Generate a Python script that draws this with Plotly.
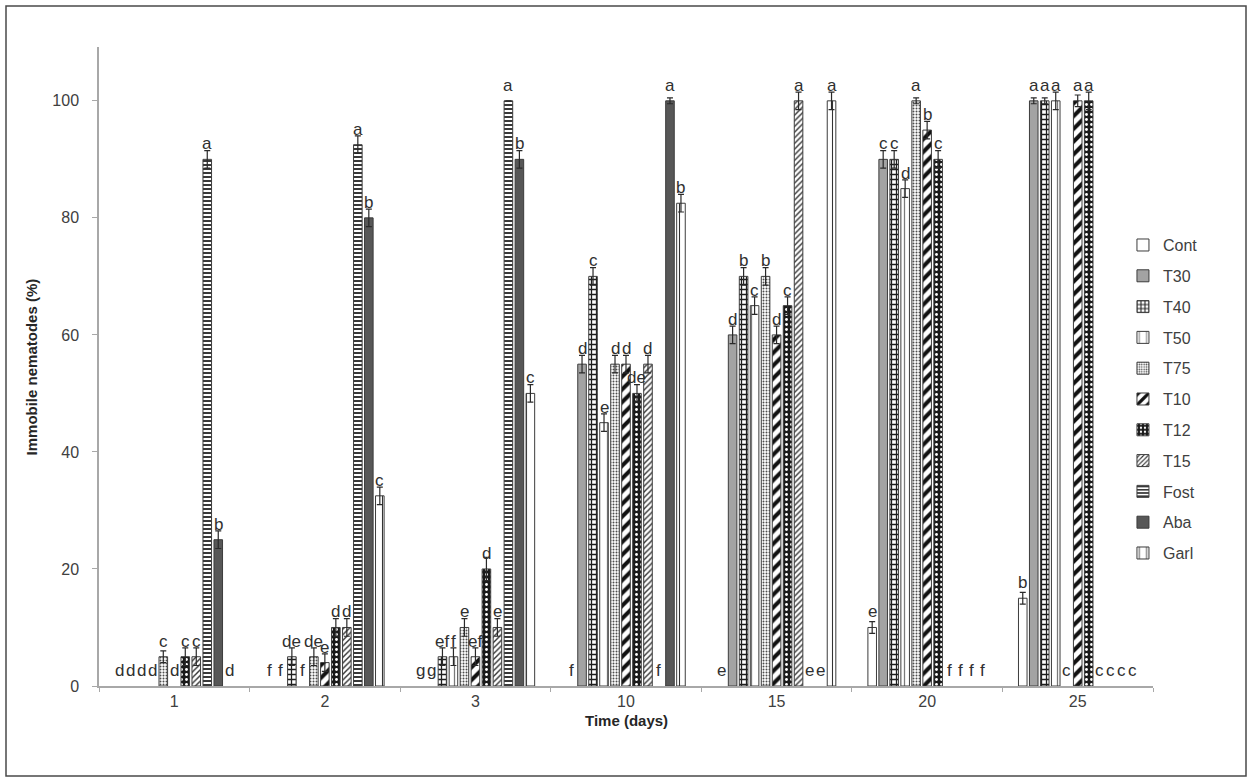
import plotly.graph_objects as go

# Sampling days (x categories)
days = ["1", "2", "3", "10", "15", "20", "25"]

# Treatments, in legend order
treatments = ["Cont", "T30", "T40", "T50", "T75", "T10", "T12", "T15", "Fost", "Aba", "Garl"]

# Immobile nematodes (%) per treatment, one value per day
cont = [0, 0, 0, 0, 0, 10, 15]
t30 = [0, 0, 0, 55, 60, 90, 100]
t40 = [0, 5, 5, 70, 70, 90, 100]
t50 = [0, 0, 5, 45, 65, 85, 100]
t75 = [5, 5, 10, 55, 70, 100, 0]
t10 = [0, 4, 5, 55, 60, 95, 100]
t12 = [5, 10, 20, 50, 65, 90, 100]
t15 = [5, 10, 10, 55, 100, 0, 0]
fost = [90, 92.5, 100, 0, 0, 0, 0]
aba = [25, 80, 90, 100, 0, 0, 0]
garl = [0, 32.5, 50, 82.5, 100, 0, 0]

# Standard errors (None where no bar is drawn)
err_cont = [None, None, None, None, None, 1, 1]
err_t30 = [None, None, None, 1.5, 1.5, 1.5, 0.5]
err_t40 = [None, 1.5, 1.5, 1.5, 1.5, 1.5, 0.5]
err_t50 = [None, None, 1.5, 1.5, 1.5, 1.5, 1.5]
err_t75 = [1, 1.5, 1.5, 1.5, 1.5, 0.5, None]
err_t10 = [None, 1.5, 1.5, 1.5, 1.5, 1.5, 1]
err_t12 = [1.5, 1.5, 2, 1.5, 1.5, 1.5, 1.5]
err_t15 = [1.5, 1.5, 1.5, 1.5, 1.5, None, None]
err_fost = [1.5, 1.5, 0, None, None, None, None]
err_aba = [1.5, 1.5, 1.5, 0.5, None, None, None]
err_garl = [None, 1.5, 1.5, 1.5, 1.5, None, None]

# Significance letters per treatment and day
let_cont = ["d", "f", "g", "f", "e", "e", "b"]
let_t30 = ["d", "f", "g", "d", "d", "c", "a"]
let_t40 = ["d", "de", "ef", "c", "b", "c", "a"]
let_t50 = ["d", "f", "f", "e", "c", "d", "a"]
let_t75 = ["c", "de", "e", "d", "b", "a", "c"]
let_t10 = ["d", "e", "ef", "d", "d", "b", "a"]
let_t12 = ["c", "d", "d", "de", "c", "c", "a"]
let_t15 = ["c", "d", "e", "d", "a", "f", "c"]
let_fost = ["a", "a", "a", "f", "e", "f", "c"]
let_aba = ["b", "b", "b", "a", "e", "f", "c"]
let_garl = ["d", "c", "c", "b", "a", "f", "c"]

values = [cont, t30, t40, t50, t75, t10, t12, t15, fost, aba, garl]
errors = [err_cont, err_t30, err_t40, err_t50, err_t75, err_t10, err_t12,
          err_t15, err_fost, err_aba, err_garl]
letters = [let_cont, let_t30, let_t40, let_t50, let_t75, let_t10, let_t12,
           let_t15, let_fost, let_aba, let_garl]

# Fill style per treatment: (background, foreground, pattern shape, size, solidity)
styles = [
    ("white", "white", "", 8, 0.2),
    ("#a3a3a3", "#a3a3a3", "", 8, 0.2),
    ("white", "#1e1e1e", "+", 5, 0.45),
    ("white", "#7a7a7a", "|", 9, 0.14),
    ("white", "#4d4d4d", ".", 3, 0.35),
    ("white", "#111111", "/", 9, 0.45),
    ("#1a1a1a", "white", ".", 5, 0.25),
    ("white", "#333333", "/", 4, 0.35),
    ("white", "#222222", "-", 4, 0.45),
    ("#575757", "#575757", "", 8, 0.2),
    ("white", "#333333", "|", 9, 0.12),
]

FONT = "Liberation Sans, Arial, sans-serif"
BARGAP = 0.197
positions = list(range(len(days)))

fig = go.Figure()
for name, vals, errs, (bg, fg, shape, size, sol) in zip(treatments, values, errors, styles):
    fig.add_trace(go.Bar(
        name=name,
        x=positions,
        # zero-height bars are left empty so no outline is drawn on the axis
        y=[v if v > 0 else None for v in vals],
        legendgroup=name,
        marker=dict(
            color=bg,
            line=dict(color="#3c3c3c", width=1),
            pattern=dict(shape=shape, bgcolor=bg, fgcolor=fg, size=size,
                         solidity=sol, fillmode="replace"),
        ),
        error_y=dict(type="data", array=errs, visible=True, symmetric=True,
                     color="#2a2a2a", thickness=1.2, width=3),
    ))

# Letters above each bar, placed on the grouped-bar slots
n = len(treatments)
slot = (1 - BARGAP) / n
annotations = []
for j, (vals, lets) in enumerate(zip(values, letters)):
    for i, (v, lt) in enumerate(zip(vals, lets)):
        annotations.append(dict(
            x=i + (j - (n - 1) / 2) * slot, y=v, xref="x", yref="y",
            text=lt, showarrow=False, yanchor="bottom", xanchor="center",
            yshift=5, borderpad=0,
            font=dict(family=FONT, size=17, color="#303030"),
        ))

# Axis titles
annotations.append(dict(
    x=0.5, y=-0.037, xref="paper", yref="paper", yanchor="top", xanchor="center",
    text="<b>Time (days)</b>", showarrow=False,
    font=dict(family=FONT, size=15, color="#262626"),
))
annotations.append(dict(
    x=-0.0636, y=0.5, xref="paper", yref="paper", textangle=-90,
    xanchor="center", yanchor="middle",
    text="<b>Immobile nematodes (%)</b>", showarrow=False,
    font=dict(family=FONT, size=15, color="#262626"),
))

axis_grey = "#a8a8a8"
fig.update_layout(
    width=1253, height=783,
    margin=dict(l=99, r=100, t=47, b=97),
    paper_bgcolor="white", plot_bgcolor="white",
    barmode="group", bargap=BARGAP, bargroupgap=0.22,
    font=dict(family=FONT, size=16, color="#404040"),
    showlegend=True,
    legend=dict(
        x=0.9715, xanchor="left", y=0.449, yanchor="middle",
        font=dict(family=FONT, size=16, color="#404040"),
        tracegroupgap=7, bgcolor="rgba(0,0,0,0)", itemwidth=30,
    ),
    xaxis=dict(
        range=[-0.5, len(days) - 0.5],
        tickmode="array", tickvals=positions, ticktext=days,
        ticks="", showline=True, linecolor=axis_grey, linewidth=1.5,
        showgrid=False, zeroline=False, ticklabelstandoff=0,
        tickfont=dict(family=FONT, size=16, color="#404040"),
        minor=dict(tick0=-0.5, dtick=1, ticks="outside", ticklen=4,
                   tickcolor=axis_grey, showgrid=False),
    ),
    yaxis=dict(
        range=[0, 109.2],
        tickmode="array", tickvals=[0, 20, 40, 60, 80, 100],
        ticks="outside", ticklen=5, tickcolor=axis_grey,
        showline=True, linecolor=axis_grey, linewidth=1.5,
        showgrid=False, zeroline=False, ticklabelstandoff=10,
        tickfont=dict(family=FONT, size=16, color="#404040"),
    ),
    annotations=annotations,
    shapes=[dict(
        type="rect", xref="paper", yref="paper",
        x0=-93 / 1054, x1=1147 / 1054, y0=-90 / 639, y1=680 / 639,
        line=dict(color="#4a4a4a", width=1.5), fillcolor="rgba(0,0,0,0)",
    )],
)

fig.write_html("out.html")
